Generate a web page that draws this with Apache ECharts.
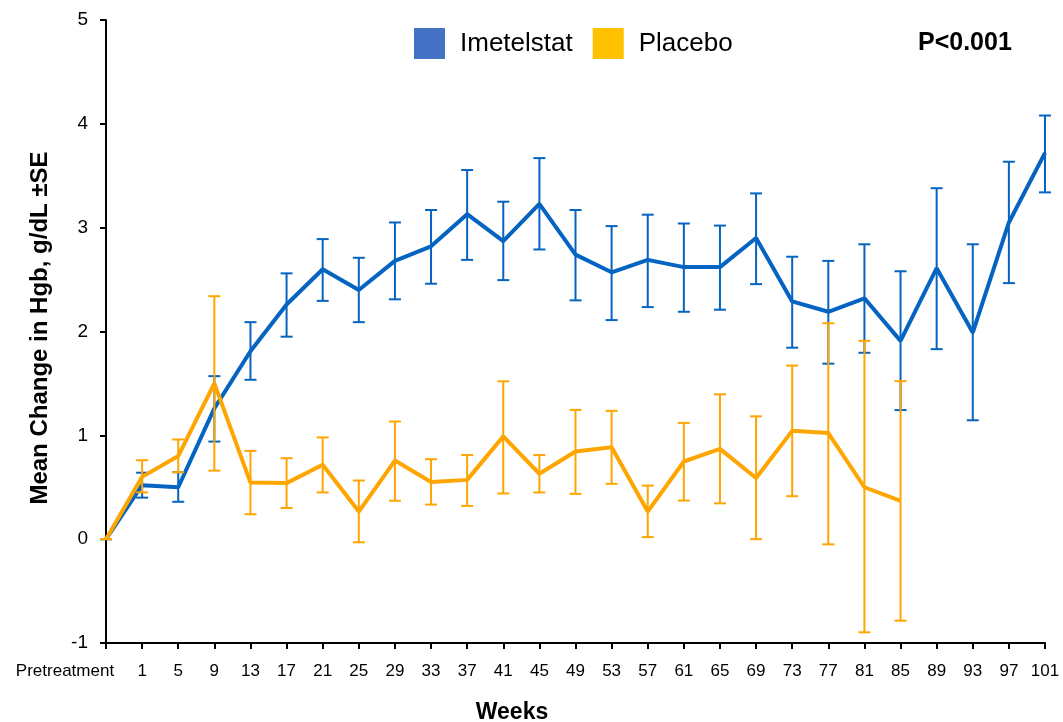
<!DOCTYPE html>
<html>
<head>
<meta charset="utf-8">
<script src="https://cdn.jsdelivr.net/npm/echarts@6/dist/echarts.min.js"></script>
<style>
html,body{margin:0;padding:0;background:#fff;}
#chart{width:1063px;height:722px;}
</style>
</head>
<body>
<div id="chart"></div>
<script>
// ---- data ----
const categories = ['Pretreatment','1','5','9','13','17','21','25','29','33','37','41','45','49','53','57','61','65','69','73','77','81','85','89','93','97','101'];

const imetelstatMean = [0, 0.52, 0.50, 1.26, 1.81, 2.26, 2.60, 2.40, 2.68, 2.82, 3.13, 2.87, 3.23, 2.74, 2.57, 2.69, 2.62, 2.62, 2.90, 2.29, 2.19, 2.32, 1.91, 2.61, 1.99, 3.05, 3.72];
const imetelstatHigh = [0, 0.64, 0.645, 1.57, 2.09, 2.56, 2.89, 2.71, 3.05, 3.17, 3.555, 3.25, 3.67, 3.17, 3.015, 3.125, 3.04, 3.02, 3.33, 2.72, 2.68, 2.84, 2.58, 3.38, 2.84, 3.635, 4.08];
const imetelstatLow  = [0, 0.40, 0.36, 0.94, 1.535, 1.95, 2.295, 2.09, 2.31, 2.46, 2.69, 2.495, 2.79, 2.30, 2.11, 2.235, 2.19, 2.21, 2.456, 1.844, 1.69, 1.795, 1.243, 1.83, 1.145, 2.466, 3.34];

const placeboMean = [0, 0.60, 0.80, 1.50, 0.545, 0.54, 0.716, 0.266, 0.757, 0.55, 0.571, 0.99, 0.63, 0.844, 0.886, 0.266, 0.748, 0.87, 0.589, 1.043, 1.022, 0.50, 0.369, null, null, null, null];
const placeboHigh = [0, 0.76, 0.96, 2.34, 0.85, 0.78, 0.98, 0.565, 1.133, 0.77, 0.81, 1.52, 0.81, 1.245, 1.236, 0.516, 1.12, 1.395, 1.183, 1.672, 2.08, 1.91, 1.522, null, null, null, null];
const placeboLow  = [0, 0.45, 0.645, 0.66, 0.24, 0.30, 0.45, -0.03, 0.37, 0.333, 0.32, 0.44, 0.45, 0.436, 0.533, 0.02, 0.372, 0.345, 0.0, 0.414, -0.05, -0.897, -0.785, null, null, null, null];

const yTicks = [-1, 0, 1, 2, 3, 4, 5];
const seriesNames = ['Imetelstat', 'Placebo'];

// ---- styling ----
const FONT = '"Liberation Sans", Arial, Helvetica, sans-serif';
const BLUE = '#0563C1', ORANGE = '#FFA500';
const BLUE_LEG = '#4472C4', ORANGE_LEG = '#FFC000';

function errData(lo, hi) {
  const out = [];
  for (let i = 0; i < lo.length; i++) {
    if (lo[i] != null && hi[i] != null) out.push([i, lo[i], hi[i]]);
  }
  return out;
}
function errRender(color) {
  return function (params, api) {
    const x = api.value(0);
    const lo = api.coord([x, api.value(1)]);
    const hi = api.coord([x, api.value(2)]);
    const w = 6;
    const st = { stroke: color, lineWidth: 2 };
    return {
      type: 'group',
      children: [
        { type: 'line', shape: { x1: lo[0], y1: lo[1], x2: hi[0], y2: hi[1] }, style: st },
        { type: 'line', shape: { x1: lo[0] - w, y1: lo[1], x2: lo[0] + w, y2: lo[1] }, style: st },
        { type: 'line', shape: { x1: hi[0] - w, y1: hi[1], x2: hi[0] + w, y2: hi[1] }, style: st }
      ]
    };
  };
}

const chart = echarts.init(document.getElementById('chart'), null, { renderer: 'canvas' });
chart.setOption({
  backgroundColor: '#fff',
  animation: false,
  textStyle: { fontFamily: FONT, color: '#000' },
  grid: { left: 106, right: 18, top: 20, bottom: 79, containLabel: false },
  legend: {
    left: 414, top: 28, padding: 0,
    icon: 'rect', itemWidth: 31, itemHeight: 31, itemGap: 20,
    textStyle: { fontFamily: FONT, fontSize: 26, color: '#000', padding: [6, 0, 0, 10] },
    data: [
      { name: seriesNames[0], itemStyle: { color: BLUE_LEG, borderWidth: 0 } },
      { name: seriesNames[1], itemStyle: { color: ORANGE_LEG, borderWidth: 0 } }
    ]
  },
  xAxis: {
    type: 'category',
    data: categories,
    boundaryGap: false,
    axisLine: { onZero: false, lineStyle: { color: '#000', width: 2 } },
    axisTick: { show: true, inside: false, length: 6, alignWithLabel: true, interval: 0, lineStyle: { color: '#000', width: 2 } },
    axisLabel: {
      interval: 0, margin: 20, color: '#000', fontFamily: FONT, fontSize: 17, hideOverlap: false,
      formatter: function (v, i) { return i === 0 ? '{p|' + v + '}' : v; },
      rich: { p: { fontFamily: FONT, fontSize: 17, color: '#000', padding: [0, 82, 0, 0] } }
    },
    splitLine: { show: false }
  },
  yAxis: {
    type: 'value',
    min: yTicks[0], max: yTicks[yTicks.length - 1], interval: 1,
    axisLine: { show: true, lineStyle: { color: '#000', width: 2 } },
    axisTick: { show: true, length: 6, lineStyle: { color: '#000', width: 2 } },
    axisLabel: { margin: 18, color: '#000', fontFamily: FONT, fontSize: 19 },
    splitLine: { show: false }
  },
  graphic: [
    {
      type: 'text', x: 40, y: 328, rotation: Math.PI / 2,
      style: { text: 'Mean Change in Hgb, g/dL \u00B1SE', fontFamily: FONT, fontSize: 24, fontWeight: 'bold', fill: '#000', textAlign: 'center', textVerticalAlign: 'middle' }
    },
    {
      type: 'text', x: 512, y: 713,
      style: { text: 'Weeks', fontFamily: FONT, fontSize: 23, fontWeight: 'bold', fill: '#000', textAlign: 'center', textVerticalAlign: 'middle' }
    },
    {
      type: 'text', x: 918, y: 43,
      style: { text: 'P<0.001', fontFamily: FONT, fontSize: 25, fontWeight: 'bold', fill: '#000', textAlign: 'left', textVerticalAlign: 'middle' }
    }
  ],
  series: [
    {
      name: seriesNames[0] + ' SE', type: 'custom', renderItem: errRender(BLUE),
      encode: { x: 0, y: [1, 2] }, data: errData(imetelstatLow, imetelstatHigh), z: 3, silent: true
    },
    {
      name: seriesNames[0], type: 'line', data: imetelstatMean, color: BLUE,
      showSymbol: false, symbol: 'none', lineStyle: { color: BLUE, width: 4 }, z: 4
    },
    {
      name: seriesNames[1] + ' SE', type: 'custom', renderItem: errRender(ORANGE),
      encode: { x: 0, y: [1, 2] }, data: errData(placeboLow, placeboHigh), z: 5, silent: true
    },
    {
      name: seriesNames[1], type: 'line', data: placeboMean, color: ORANGE,
      showSymbol: false, symbol: 'none', connectNulls: false, lineStyle: { color: ORANGE, width: 4 }, z: 6
    }
  ]
});
</script>
</body>
</html>
